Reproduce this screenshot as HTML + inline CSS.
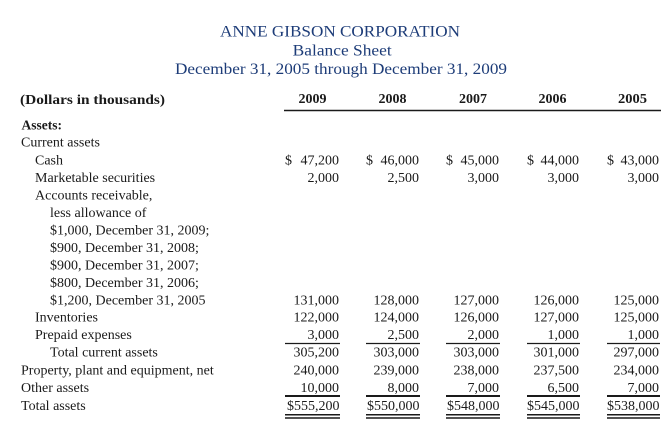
<!DOCTYPE html>
<html>
<head>
<meta charset="utf-8">
<style>
  html, body { margin:0; padding:0; background:#ffffff; }
  body { width:670px; height:424px; overflow:hidden; }
  svg { display:block; }
  .t { font-family:"Liberation Serif", serif; fill:#1d3c78; font-size:16px; }
  .b { font-family:"Liberation Serif", serif; fill:#1a1a1a; font-size:14px; }
  .h { font-family:"Liberation Serif", serif; fill:#1a1a1a; font-size:13.5px; font-weight:bold; }
  .n { font-family:"Liberation Serif", serif; fill:#1a1a1a; font-size:14px; text-anchor:end; }
</style>
</head>
<body>
<svg width="670" height="424" viewBox="0 0 670 424" xmlns="http://www.w3.org/2000/svg">
  <!-- Titles -->
  <text class="t" x="220" y="36.7" textLength="240" lengthAdjust="spacingAndGlyphs">ANNE GIBSON CORPORATION</text>
  <text class="t" x="292.7" y="55.7" textLength="99" lengthAdjust="spacingAndGlyphs">Balance Sheet</text>
  <text class="t" x="175" y="74" textLength="332" lengthAdjust="spacingAndGlyphs">December 31, 2005 through December 31, 2009</text>

  <!-- Header -->
  <text class="h" x="20" y="104" textLength="145" lengthAdjust="spacingAndGlyphs">(Dollars in thousands)</text>
  <text class="h" x="298.5" y="103" textLength="28" lengthAdjust="spacingAndGlyphs">2009</text>
  <text class="h" x="378.5" y="103" textLength="28" lengthAdjust="spacingAndGlyphs">2008</text>
  <text class="h" x="459" y="103" textLength="28" lengthAdjust="spacingAndGlyphs">2007</text>
  <text class="h" x="538.5" y="103" textLength="28" lengthAdjust="spacingAndGlyphs">2006</text>
  <text class="h" x="618" y="103" textLength="29" lengthAdjust="spacingAndGlyphs">2005</text>
  <line x1="284" y1="110.5" x2="661" y2="110.5" stroke="#1a1a1a" stroke-width="1.4"/>

  <!-- Labels -->
  <text class="h" x="21.5" y="129.3" font-size="13.5">Assets:</text>
  <text class="b" x="21" y="146.5">Current assets</text>
  <text class="b" x="35" y="164.3">Cash</text>
  <text class="b" x="35" y="182">Marketable securities</text>
  <text class="b" x="35" y="199.5">Accounts receivable,</text>
  <text class="b" x="50" y="217">less allowance of</text>
  <text class="b" x="50" y="234.3">$1,000, December 31, 2009;</text>
  <text class="b" x="50" y="251.8">$900, December 31, 2008;</text>
  <text class="b" x="50" y="269.3">$900, December 31, 2007;</text>
  <text class="b" x="50" y="286.8">$800, December 31, 2006;</text>
  <text class="b" x="50" y="304.3">$1,200, December 31, 2005</text>
  <text class="b" x="35" y="321.5">Inventories</text>
  <text class="b" x="35" y="339">Prepaid expenses</text>
  <text class="b" x="50" y="356.7">Total current assets</text>
  <text class="b" x="21" y="374.7">Property, plant and equipment, net</text>
  <text class="b" x="21" y="392">Other assets</text>
  <text class="b" x="21" y="409.8">Total assets</text>

  <!-- Cash row -->
  <text class="b" x="285" y="164.3">$</text>
  <text class="b" x="366" y="164.3">$</text>
  <text class="b" x="446" y="164.3">$</text>
  <text class="b" x="527" y="164.3">$</text>
  <text class="b" x="607" y="164.3">$</text>
  <text class="n" x="339" y="164.3">47,200</text>
  <text class="n" x="419" y="164.3">46,000</text>
  <text class="n" x="499" y="164.3">45,000</text>
  <text class="n" x="579" y="164.3">44,000</text>
  <text class="n" x="659" y="164.3">43,000</text>

  <!-- Marketable -->
  <text class="n" x="339" y="182">2,000</text>
  <text class="n" x="419" y="182">2,500</text>
  <text class="n" x="499" y="182">3,000</text>
  <text class="n" x="579" y="182">3,000</text>
  <text class="n" x="659" y="182">3,000</text>

  <!-- Accounts receivable -->
  <text class="n" x="339" y="304.3">131,000</text>
  <text class="n" x="419" y="304.3">128,000</text>
  <text class="n" x="499" y="304.3">127,000</text>
  <text class="n" x="579" y="304.3">126,000</text>
  <text class="n" x="659" y="304.3">125,000</text>

  <!-- Inventories -->
  <text class="n" x="339" y="321.5">122,000</text>
  <text class="n" x="419" y="321.5">124,000</text>
  <text class="n" x="499" y="321.5">126,000</text>
  <text class="n" x="579" y="321.5">127,000</text>
  <text class="n" x="659" y="321.5">125,000</text>

  <!-- Prepaid -->
  <text class="n" x="339" y="339">3,000</text>
  <text class="n" x="419" y="339">2,500</text>
  <text class="n" x="499" y="339">2,000</text>
  <text class="n" x="579" y="339">1,000</text>
  <text class="n" x="659" y="339">1,000</text>

  <!-- Total current -->
  <text class="n" x="339" y="356.7">305,200</text>
  <text class="n" x="419" y="356.7">303,000</text>
  <text class="n" x="499" y="356.7">303,000</text>
  <text class="n" x="579" y="356.7">301,000</text>
  <text class="n" x="659" y="356.7">297,000</text>

  <!-- PP&E -->
  <text class="n" x="339" y="374.7">240,000</text>
  <text class="n" x="419" y="374.7">239,000</text>
  <text class="n" x="499" y="374.7">238,000</text>
  <text class="n" x="579" y="374.7">237,500</text>
  <text class="n" x="659" y="374.7">234,000</text>

  <!-- Other -->
  <text class="n" x="339" y="392">10,000</text>
  <text class="n" x="419" y="392">8,000</text>
  <text class="n" x="499" y="392">7,000</text>
  <text class="n" x="579" y="392">6,500</text>
  <text class="n" x="659" y="392">7,000</text>

  <!-- Total -->
  <text class="n" x="339.5" y="409.8">$555,200</text>
  <text class="n" x="419.5" y="409.8">$550,000</text>
  <text class="n" x="499.5" y="409.8">$548,000</text>
  <text class="n" x="579.5" y="409.8">$545,000</text>
  <text class="n" x="659.5" y="409.8">$538,000</text>

  <!-- Rules -->
  <g stroke="#1a1a1a">
    <g stroke-width="1.2">
      <line x1="285" y1="343.5" x2="340" y2="343.5"/>
      <line x1="366" y1="343.5" x2="420" y2="343.5"/>
      <line x1="446" y1="343.5" x2="500" y2="343.5"/>
      <line x1="527" y1="343.5" x2="580" y2="343.5"/>
      <line x1="607" y1="343.5" x2="660" y2="343.5"/>
    </g>
    <g stroke-width="2">
      <line x1="285" y1="396" x2="340" y2="396"/>
      <line x1="366" y1="396" x2="420" y2="396"/>
      <line x1="446" y1="396" x2="500" y2="396"/>
      <line x1="527" y1="396" x2="580" y2="396"/>
      <line x1="607" y1="396" x2="660" y2="396"/>
    </g>
    <g stroke-width="1.5">
      <line x1="285" y1="414.8" x2="340" y2="414.8"/>
      <line x1="366" y1="414.8" x2="420" y2="414.8"/>
      <line x1="446" y1="414.8" x2="500" y2="414.8"/>
      <line x1="527" y1="414.8" x2="580" y2="414.8"/>
      <line x1="607" y1="414.8" x2="660" y2="414.8"/>
      <line x1="285" y1="418" x2="340" y2="418"/>
      <line x1="366" y1="418" x2="420" y2="418"/>
      <line x1="446" y1="418" x2="500" y2="418"/>
      <line x1="527" y1="418" x2="580" y2="418"/>
      <line x1="607" y1="418" x2="660" y2="418"/>
    </g>
  </g>
</svg>
</body>
</html>
